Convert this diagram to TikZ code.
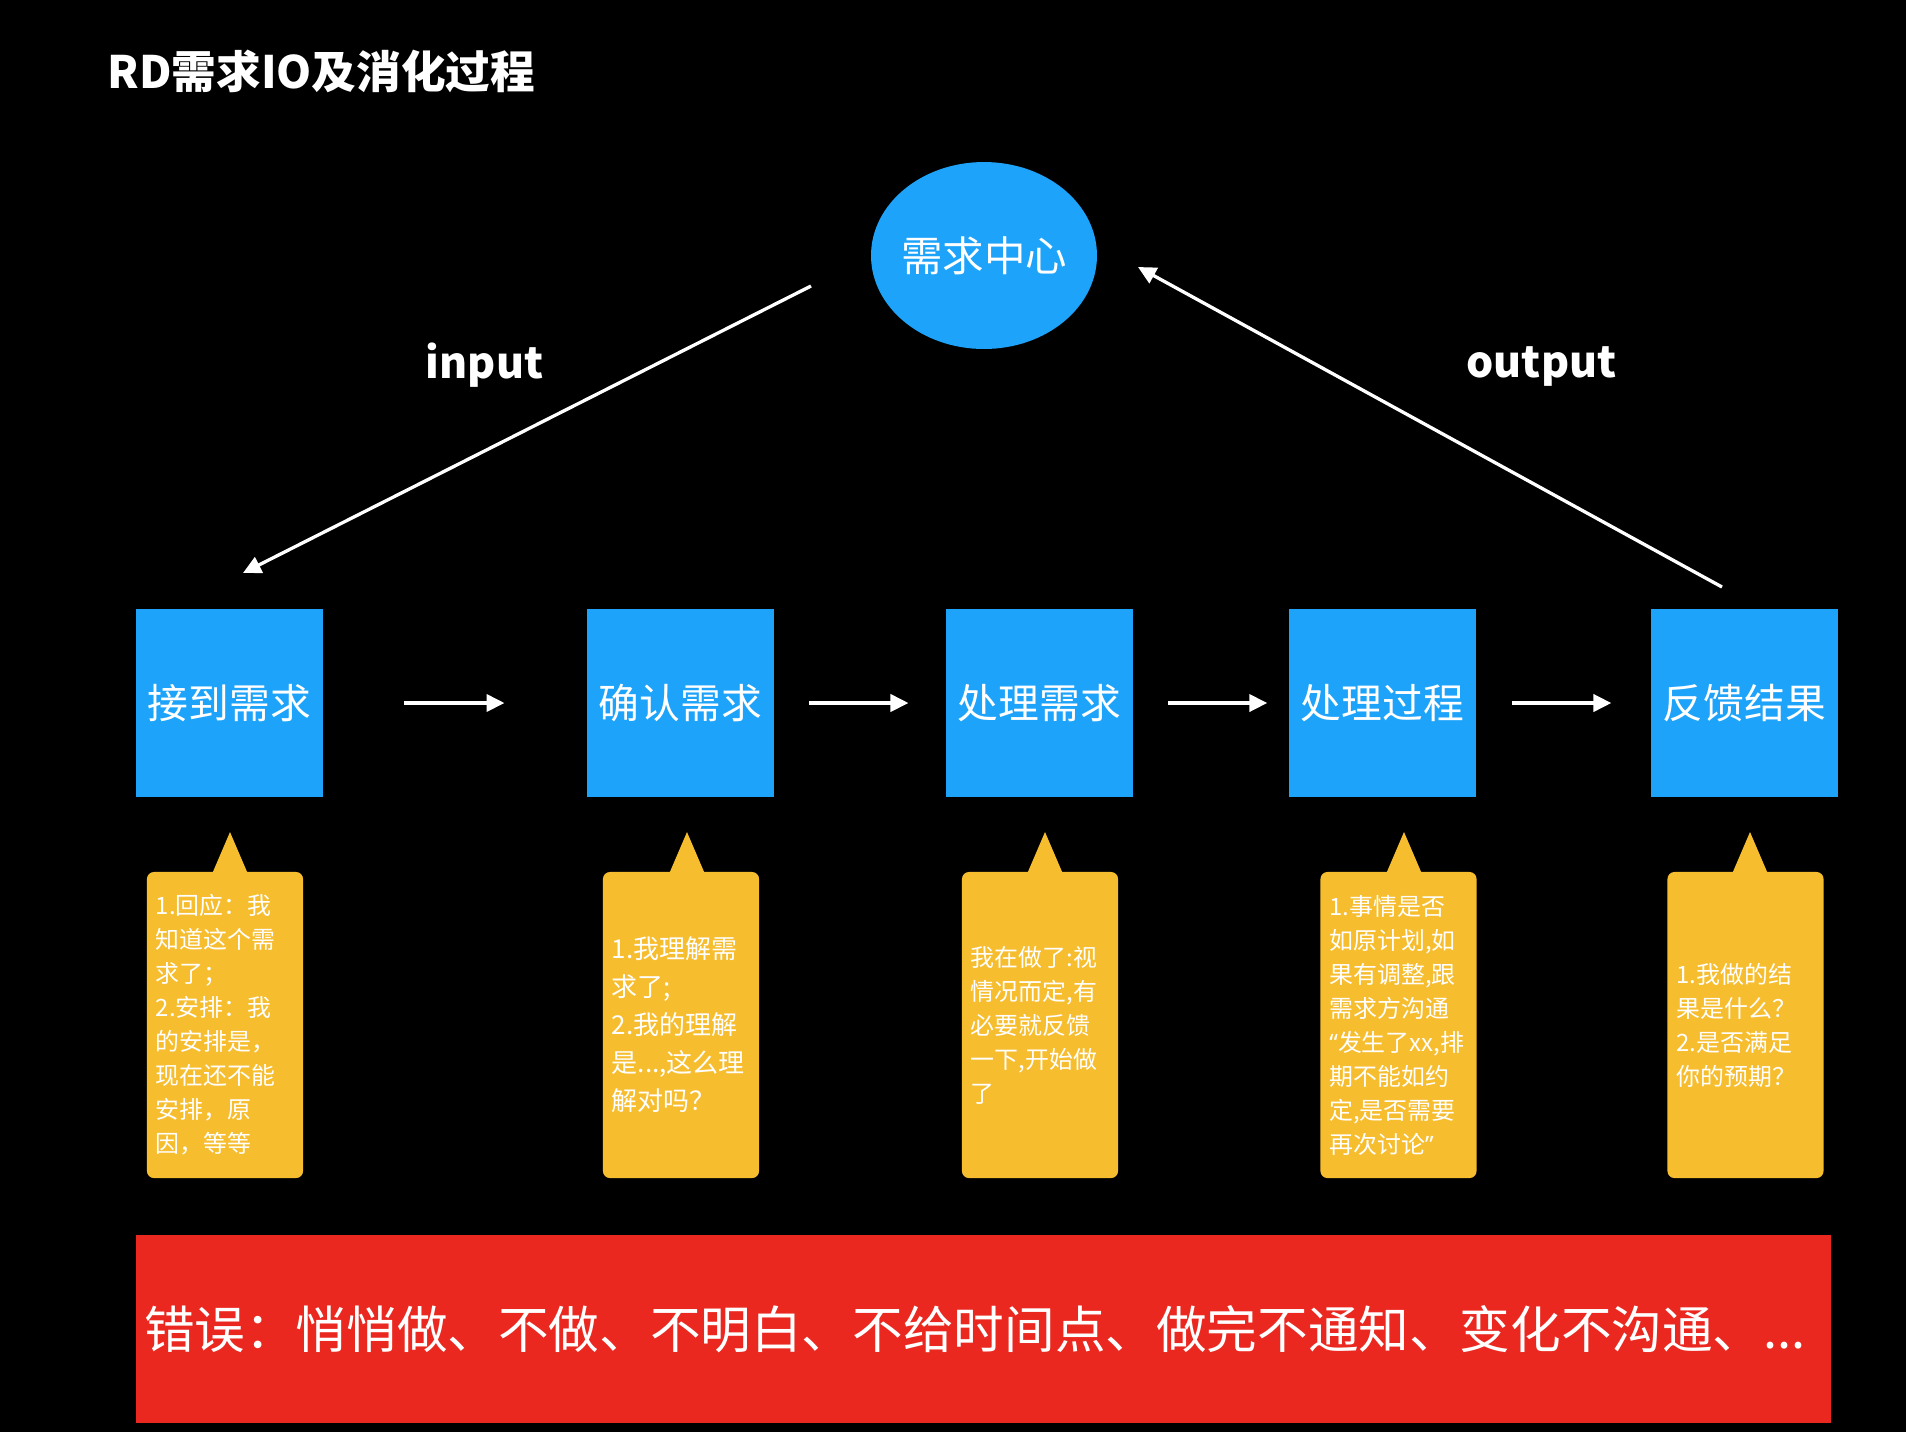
\documentclass[tikz,border=0pt]{standalone}
\usepackage{fontspec}
\setmainfont{Noto Sans CJK SC}
\newfontfamily\qfont{Noto Sans}
\usetikzlibrary{shapes.geometric,arrows.meta}
\definecolor{bblue}{RGB}{29,163,250}
\definecolor{cyell}{RGB}{246,189,47}
\definecolor{rred}{RGB}{234,40,32}
\tikzset{
  stepbox/.style={fill=bblue, text=white, minimum width=53.2pt, minimum height=53.5pt,
    inner sep=0pt, font=\fontsize{11.6pt}{13pt}\selectfont},
  callbox/.style={fill=cyell, rounded corners=2pt, text=white, minimum height=87.1pt,
    text width=39.3pt, inner xsep=2.56pt, inner ysep=0pt, align=left,
    font=\fontsize{6.8pt}{9.67pt}\selectfont},
  pointer/.style={fill=cyell},
  conn/.style={draw=white, line width=0.94pt, -{Triangle[length=5.1pt,width=4.9pt]}},
  iolabel/.style={text=white, inner sep=0pt, anchor=base, font=\fontsize{12.2pt}{15pt}\selectfont\bfseries},
}
\begin{document}
\begin{tikzpicture}[x=0.28453pt,y=-0.28453pt]
\fill[black] (0,0) rectangle (1906,1432);
\useasboundingbox (0,0) rectangle (1906,1432);

% title
\node[text=white, inner sep=0pt, anchor=base west, font=\fontsize{12.7pt}{15pt}\selectfont\bfseries] (title) at (107,88) {RD需求IO及消化过程};

% center ellipse
\node[ellipse, fill=bblue, text=white, minimum width=64.3pt, minimum height=53.2pt, inner sep=0pt,
  font=\fontsize{11.8pt}{13pt}\selectfont] (center) at (984,255.5) {\makebox[0pt]{需求中心}};

% io labels
\node[iolabel] (inlab) at (484.5,378) {input};
\node[iolabel] (outlab) at (1541.5,377) {output};

% step boxes
\node[stepbox] (b1) at (229.5,703) {接到需求};
\node[stepbox] (b2) at (680.5,703) {确认需求};
\node[stepbox] (b3) at (1039.5,703) {处理需求};
\node[stepbox] (b4) at (1382.5,703) {处理过程};
\node[stepbox] (b5) at (1744.5,703) {反馈结果};

% horizontal arrows
\draw[conn, shorten <=22.8pt, shorten >=23.3pt] (b1.east) -- (b2.west);
\draw[conn, shorten <=9.7pt, shorten >=10.5pt] (b2.east) -- (b3.west);
\draw[conn, shorten <=9.7pt, shorten >=6.0pt] (b3.east) -- (b4.west);
\draw[conn, shorten <=10.0pt, shorten >=11.1pt] (b4.east) -- (b5.west);

% diagonal arrows
\coordinate (inS) at (811,286);
\coordinate (inE) at (243,573);
\coordinate (outS) at (1722,587);
\coordinate (outE) at (1138,267);
\draw[conn] (inS) -- (inE);
\draw[conn] (outS) -- (outE);

% callout pointers
\fill[pointer] (212,874) -- (230,832) -- (248,874) -- cycle;
\fill[pointer] (669,874) -- (687,832) -- (705,874) -- cycle;
\fill[pointer] (1027,874) -- (1045,832) -- (1063,874) -- cycle;
\fill[pointer] (1386,874) -- (1404,832) -- (1422,874) -- cycle;
\fill[pointer] (1732,874) -- (1750,832) -- (1768,874) -- cycle;

% callouts
\node[callbox] (c1) at (225,1025) {1.回应：我\\知道这个需\\求了；\\2.安排：我\\的安排是，\\现在还不能\\安排，原\\因，等等};
\node[callbox, font=\fontsize{7.4pt}{10.8pt}\selectfont] (c2) at (681,1025) {1.我理解需\\求了;\\2.我的理解\\是...,这么理\\解对吗？};
\node[callbox] (c3) at (1040,1025) {我在做了:视\\情况而定,有\\必要就反馈\\一下,开始做\\了};
\node[callbox] (c4) at (1398.5,1025) {1.事情是否\\如原计划,如\\果有调整,跟\\需求方沟通\\{\qfont “}发生了xx,排\\期不能如约\\定,是否需要\\再次讨论{\qfont ”}};
\node[callbox] (c5) at (1745.5,1025) {1.我做的结\\果是什么？\\2.是否满足\\你的预期？};

% error bar
\node[fill=rred, text=white, minimum width=482.3pt, minimum height=53.5pt, inner ysep=0pt,
  inner xsep=2.3pt, text width=477.7pt, align=left, font=\fontsize{14.4pt}{17pt}\selectfont]
  (err) at (983.5,1329) {错误：悄悄做、不做、不明白、不给时间点、做完不通知、变化不沟通、...};
\end{tikzpicture}
\end{document}
